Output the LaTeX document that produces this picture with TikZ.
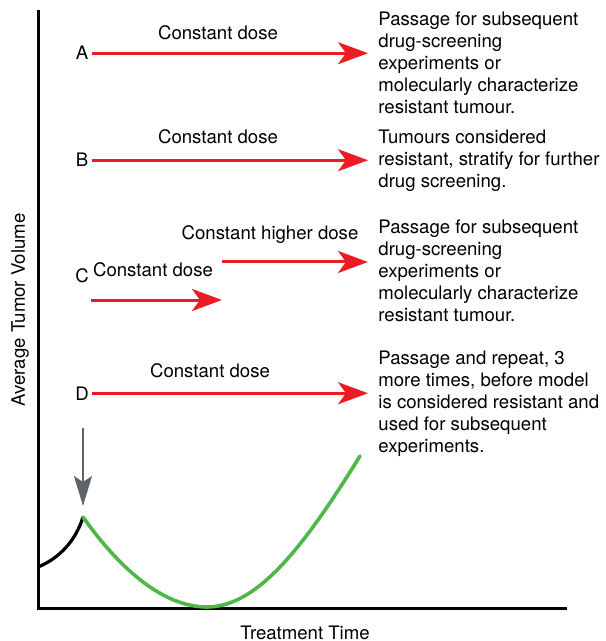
\documentclass[tikz,border=0pt]{standalone}
\usepackage{fontspec}
\setmainfont{TeX Gyre Heros}
\usetikzlibrary{arrows.meta}
\definecolor{dosered}{RGB}{237,28,36}
\definecolor{growgreen}{RGB}{77,184,72}
\definecolor{pointgray}{RGB}{95,100,105}
\tikzset{
  dose/.style={dosered,line width=1.5pt,-{Stealth[length=15pt,width=11pt,inset=4pt]}},
  outcome/.style={anchor=north west,align=left,inner sep=0pt},
  lbl/.style={anchor=base,inner sep=0pt}
}
\begin{document}
\begin{tikzpicture}[x=0.5pt,y=-0.5pt,font=\fontsize{9.3}{11}\selectfont]
    \useasboundingbox (0,0) rectangle (605,641);
    \draw[line width=1.5pt] (38,10) -- (38,608) -- (567,608);
    \node[lbl] (xlab) at (305,639) {Treatment Time};
    \node[lbl,rotate=90] (ylab) at (25,310) {Average Tumor Volume};
    \node[lbl] (a) at (82,60) {A};
    \node[lbl] (b) at (82,167) {B};
    \node[lbl] (c) at (82,283) {C};
    \node[lbl] (d) at (82,400) {D};
    \node[lbl] (da) at (218,40) {Constant dose};
    \node[lbl] (db) at (218,144) {Constant dose};
    \node[lbl] (dch) at (270,240) {Constant higher dose};
    \node[lbl] (dc) at (153,277) {Constant dose};
    \node[lbl] (dd) at (210,377) {Constant dose};
    \node[outcome] (ra) at (378,11) {Passage for subsequent\\drug-screening\\experiments or\\molecularly characterize\\resistant tumour.};
    \node[outcome] (rb) at (378,130) {Tumours considered\\resistant, stratify for further\\drug screening.};
    \node[outcome] (rc) at (378,219) {Passage for subsequent\\drug-screening\\experiments or\\molecularly characterize\\resistant tumour.};
    \node[outcome] (rd) at (378,351) {Passage and repeat, 3\\more times, before model\\is considered resistant and\\used for subsequent\\experiments.};
    \draw[dose,shorten >=5pt] ([xshift=1.5pt]a.east) -- (a.east -| ra.west);
    \draw[dose,shorten >=5pt] ([xshift=1.5pt]b.east) -- (b.east -| rb.west);
    \draw[dose,shorten >=5pt] ([xshift=1.5pt]d.east) -- (d.east -| rd.west);
    \coordinate (c0) at (91,300);
    \coordinate (c1) at (222,262);
    \draw[dose] (c0) -- (c0 -| c1);
    \draw[dose,shorten >=5pt] (c1) -- (c1 -| rc.west);
    \coordinate (start) at (38,567);
    \coordinate (peak) at (83,517);
    \coordinate (low) at (207,607);
    \coordinate (regrow) at (360,456);
    \coordinate (drop) at (83,428);
    \draw[pointgray,line width=1pt,shorten >=5.5pt,-{Stealth[length=15pt,width=9pt,inset=3pt]}] (drop) -- (peak);
    \draw[line width=1.6pt] (start) .. controls (60,558) and (76,540) .. (peak);
    \draw[growgreen,line width=1.8pt,line cap=round] (peak) .. controls (122,572) and (165,607) .. (low) .. controls (258,607) and (305,545) .. (regrow);
\end{tikzpicture}
\end{document}
